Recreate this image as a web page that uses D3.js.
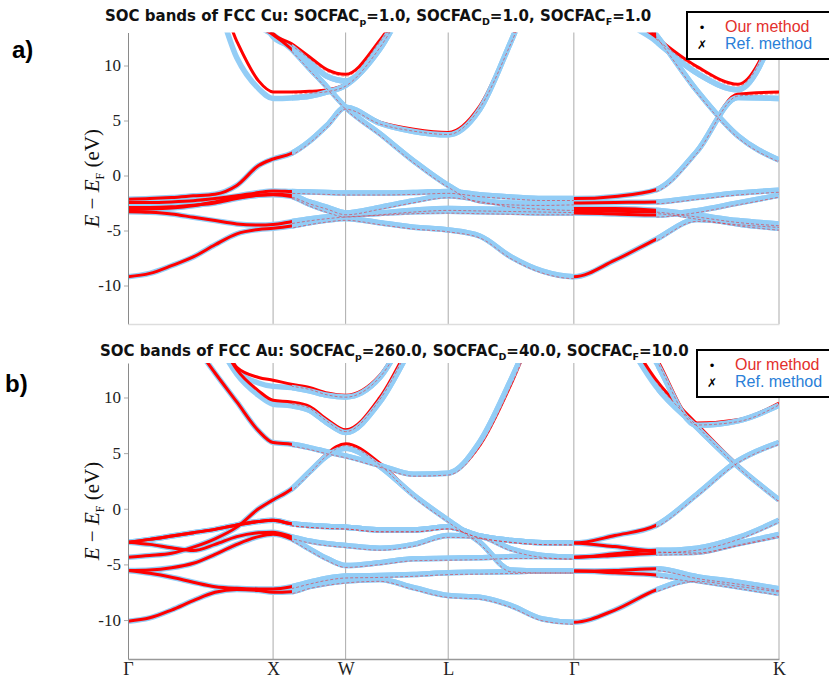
<!DOCTYPE html>
<html>
<head>
<meta charset="utf-8">
<script src="https://cdn.jsdelivr.net/npm/d3@7"></script>
<style>
    body { margin: 0; background: #fff; }
    svg { display: block; }
</style>
</head>
<body>
<div id="chart"></div>
<script>
// k-path samples (2pi/a units): G-X, X-W, W-L, L-G, G-K
const kPath = [0, 0.15, 0.3, 0.45, 0.6, 0.75, 0.9, 1.0,
    1.125, 1.25, 1.375, 1.5,
    1.736, 1.971, 2.207,
    2.424, 2.64, 2.857, 3.073,
    3.356, 3.639, 3.922, 4.204, 4.487]
const kSym = [0, 1, 1.5, 2.207, 3.073, 4.487]
const kSymLabels = ["Γ", "X", "W", "L", "Γ", "K"]
const yTicks = [-10, -5, 0, 5, 10]
// stretches of the path where the "our method" dots were plotted over the reference
const denseRanges = [[0, 1.13], [3.073, 3.64]]

// ---- FCC Cu (panel a) ----
//              G     .     .     .     .     .     .     X     .     .     .     W     .     .     L     .     .     .     G     .     .     .     .     K
const cuS =    [-9.2, -8.9, -8.2, -7.4, -6.3, -5.3, -4.9, -4.8, -4.6, -4.3, -4.05, -3.9, -4.3, -4.7, -4.95, -5.5, -7.4, -8.7, -9.2, -7.7, -5.8, -4.0, -4.3, -4.55]
const cuD1Ref = [-2.45, -2.45, -2.4, -2.3, -2.1, -1.85, -1.55, -1.4, -1.45, -1.5, -1.55, -1.6, -1.6, -1.55, -1.45, -1.75, -1.95, -2.1, -2.1, -1.9, -1.3, 2.2, 7.1, 7.0]
const cuD1Our = [-2.45, -2.45, -2.4, -2.3, -2.1, -1.85, -1.55, -1.4, -1.45, -1.5, -1.55, -1.6, -1.6, -1.55, -1.45, -1.75, -1.95, -2.1, -2.1, -1.9, -1.3, 2.2, 7.4, 7.6]
const cuD2 =   [-2.9, -2.9, -2.85, -2.7, -2.5, -2.1, -1.8, -1.7, -1.8, -2.4, -2.9, -3.4, -2.9, -2.3, -1.85, -2.2, -2.7, -2.9, -3.0, -3.0, -3.15, -3.6, -4.1, -4.4]
const cuD3 =   [-3.1, -3.05, -2.95, -2.75, -2.4, -2.0, -1.8, -1.75, -1.9, -2.6, -3.2, -3.6, -3.4, -3.15, -3.0, -3.05, -3.1, -3.15, -3.2, -3.25, -3.3, -3.8, -4.4, -4.8]
const cuD4 =   [-3.3, -3.35, -3.5, -3.8, -4.1, -4.4, -4.5, -4.45, -4.2, -3.95, -3.75, -3.6, -3.45, -3.3, -3.25, -3.3, -3.35, -3.4, -3.4, -3.5, -3.6, -3.2, -2.5, -1.8]
const cuARef = [-2.15, -2.1, -2.0, -1.85, -1.7, -0.9, 0.9, 1.5, 2.0, 3.1, 4.6, 6.2, 4.75, 4.0, 3.7, 6.0, 12.2, 19, 23, 17, 12.8, 7.7, 3.6, 1.4]
const cuAOur = [-2.15, -2.1, -2.0, -1.85, -1.7, -0.9, 0.9, 1.5, 2.0, 3.1, 4.6, 6.2, 4.85, 4.2, 3.9, 6.3, 12.2, 19, 23, 17, 12.8, 7.7, 3.6, 1.4]
const cuU3 =   [26, 24, 22, 20, 18, 16, 13.6, 12.8, 11.5, 9.75, 8.0, 6.2, 3.8, 1.3, -0.9, -2.3, -2.5, -2.55, -2.5, -2.45, -2.4, -2.0, -1.6, -1.35]
const cuU2Ref = [24, 22, 20, 18, 16, 10.7, 7.9, 7.0, 7.05, 7.2, 7.6, 8.2, 11.5, 17, 22, 26, 28, 30, 30, 15.5, 12.2, 9.3, 7.8, 14]
const cuU2Our = [24, 22, 20, 18, 17, 12.2, 8.6, 7.6, 7.6, 7.65, 7.8, 8.3, 11.8, 17, 22, 26, 28, 30, 30, 16, 12.6, 9.9, 8.3, 14.5]
const cuU4Ref = [30, 28, 26, 24, 22, 19, 15, 12.6, 11.7, 10.3, 9.0, 8.6, 11.8, 17, 22, 26, 28, 30, 30, 28, 26, 24, 22, 20]
const cuU4Our = [30, 28, 26, 24, 22, 19, 15, 12.9, 12.0, 10.8, 9.6, 9.2, 12.3, 17, 22, 26, 28, 30, 30, 28, 26, 24, 22, 20]

// ---- FCC Au (panel b) ----
const auF =    [-10.1, -9.8, -9.1, -8.25, -7.5, -7.25, -7.35, -7.5, -7.45, -7.0, -6.7, -6.5, -6.35, -7.1, -7.8, -7.95, -8.7, -9.9, -10.2, -9.1, -7.3, -6.35, -6.8, -7.3]
const auE =    [-5.55, -5.8, -6.15, -6.6, -7.0, -7.15, -7.2, -7.2, -7.0, -6.6, -6.25, -6.05, -6.0, -5.9, -5.75, -5.7, -5.65, -5.6, -5.6, -5.75, -5.95, -6.45, -7.0, -7.6]
const auD =    [-5.55, -5.5, -5.3, -4.9, -4.1, -3.2, -2.5, -2.3, -2.7, -3.6, -4.5, -5.1, -4.85, -4.5, -4.45, -4.4, -4.3, -4.3, -4.35, -4.2, -4.0, -3.9, -3.15, -2.4]
const auCRef = [-4.35, -4.2, -4.0, -3.45, -2.7, -1.65, 0.0, 0.8, 1.75, 3.3, 4.8, 5.45, 3.8, 1.2, -1.04, -3.0, -5.5, -5.6, -5.6, -5.55, -5.4, -6.1, -6.6, -7.2]
const auCOur = [-4.35, -4.2, -4.0, -3.45, -2.7, -1.65, 0.0, 0.8, 1.75, 3.3, 5.0, 5.85, 4.1, 1.2, -1.04, -3.0, -5.5, -5.6, -5.6, -5.55, -5.4, -6.1, -6.6, -7.2]
const auB =    [-3.0, -3.2, -3.5, -3.75, -3.2, -2.5, -2.15, -2.1, -2.5, -2.9, -3.15, -3.3, -3.55, -3.2, -2.4, -2.5, -3.6, -4.2, -4.35, -4.05, -3.72, -3.8, -3.1, -2.3]
const auA =    [-3.0, -2.75, -2.45, -2.15, -1.85, -1.45, -1.15, -1.04, -1.35, -1.5, -1.6, -1.65, -1.9, -1.9, -1.64, -2.45, -2.85, -3.05, -3.08, -2.4, -1.5, 1.3, 4.3, 5.95]
const auA2 =   [-3.0, -2.75, -2.45, -2.15, -1.85, -1.45, -1.15, -1.04, -1.35, -1.5, -1.6, -1.65, -1.9, -1.9, -1.64, -2.45, -2.85, -3.05, -3.08, -3.4, -3.78, -3.55, -2.6, -1.04]
const auU1Ref = [22.6, 20, 17.5, 14.9, 12.2, 9.6, 7.0, 5.95, 5.8, 5.5, 5.1, 4.75, 3.9, 3.1, 3.2, 6.0, 11.6, 18, 24, 17, 11.0, 7.3, 3.8, 0.8]
const auU1Our = [22.6, 20, 17.5, 14.9, 12.2, 9.6, 7.0, 5.95, 5.8, 5.5, 5.1, 4.75, 3.9, 3.1, 3.2, 5.7, 11.2, 18, 24, 17.5, 11.6, 7.6, 3.9, 0.8]
const auU2Ref = [30, 27, 24, 20, 15.5, 12.1, 10.2, 9.4, 9.25, 8.85, 7.7, 6.85, 9.6, 15, 21, 25, 28, 30, 30, 20, 13.2, 7.5, 7.9, 9.3]
const auU2Our = [30, 27, 24, 20, 16, 12.5, 10.6, 9.75, 9.6, 9.2, 8.0, 7.1, 10.0, 15.5, 21, 25, 28, 30, 30, 20, 13.6, 7.7, 8.0, 9.5]
const auU3Ref = [30, 28, 25, 21, 16.5, 12.5, 11.3, 11.0, 10.9, 10.6, 10.2, 10.05, 11.8, 17, 22, 26, 28, 30, 30, 29, 27, 24, 20, 17]
const auU3Our = [30, 28, 25, 21, 17, 12.7, 11.8, 11.55, 11.2, 10.9, 10.4, 10.2, 12.0, 17, 22, 26, 28, 30, 30, 29, 27, 24, 20, 17]

const cuRef = [cuS, cuD1Ref, cuD2, cuD3, cuD4, cuARef, cuU3, cuU2Ref, cuU4Ref]
const cuOur = [cuS, cuD1Our, cuD2, cuD3, cuD4, cuAOur, cuU3, cuU2Our, cuU4Our]
const auRef = [auF, auE, auD, auCRef, auB, auA, auA2, auU1Ref, auU2Ref, auU3Ref]
const auOur = [auF, auE, auD, auCOur, auB, auA, auA2, auU1Our, auU2Our, auU3Our]

const titleA = [["SOC bands of FCC Cu: SOCFAC", 0], ["p", 1], ["=1.0, SOCFAC", 0], ["D", 1], ["=1.0, SOCFAC", 0], ["F", 1], ["=1.0", 0]]
const titleB = [["SOC bands of FCC Au: SOCFAC", 0], ["p", 1], ["=260.0, SOCFAC", 0], ["D", 1], ["=40.0, SOCFAC", 0], ["F", 1], ["=10.0", 0]]
const legendItems = [{ mark: "•", label: "Our method", color: "#e3302c" },
                     { mark: "✗", label: "Ref. method", color: "#2a80d8" }]

const refColor = "#93cdf6"
const ourColor = "#ff0000"

const svg = d3.select("#chart").append("svg")
    .attr("width", 829)
    .attr("height", 679)

class BandPanel {
    constructor(opts) {
        this.svg = opts.svg
        this.id = opts.id
        this.ref = opts.ref
        this.our = opts.our
        this.top = opts.top
        this.bottom = opts.bottom
        this.yDomain = opts.yDomain
        this.showKLabels = opts.showKLabels
        this.baseColor = opts.baseColor
    }

    draw() {
        const left = 128, right = 779
        const kMax = kSym[kSym.length - 1]
        this.xScale = d3.scaleLinear().domain([0, kMax]).range([left, right])
        this.yScale = d3.scaleLinear().domain(this.yDomain).range([this.bottom, this.top])
        const x = this.xScale, y = this.yScale
        const h = this.bottom - this.top

        // complement of the dense stretches
        const sparse = []
        denseRanges.forEach((r, i) => {
            const next = i + 1 < denseRanges.length ? denseRanges[i + 1][0] : kMax
            if (next > r[1]) sparse.push([r[1], next])
        })

        const defs = this.svg.append("defs")
        defs.append("clipPath").attr("id", this.id + "-plot")
            .append("rect")
            .attr("x", left).attr("y", this.top)
            .attr("width", right - left).attr("height", h)
        defs.append("clipPath").attr("id", this.id + "-mid")
            .selectAll("rect").data(sparse).join("rect")
            .attr("x", d => x(d[0])).attr("y", this.top)
            .attr("width", d => x(d[1]) - x(d[0])).attr("height", h)

        // symmetry point lines
        this.svg.append("g").selectAll("line").data(kSym.slice(1)).join("line")
            .attr("x1", d => x(d)).attr("x2", d => x(d))
            .attr("y1", this.top).attr("y2", this.bottom)
            .attr("stroke", "#ababab")
            .attr("stroke-width", 1)

        const lineGenerator = d3.line()
            .x((d, i) => x(kPath[i]))
            .y(d => y(d))
            .curve(d3.curveMonotoneX)

        const plot = this.svg.append("g").attr("clip-path", `url(#${this.id}-plot)`)

        const drawBands = (g, data, color, width) => g.append("g")
            .selectAll("path").data(data).join("path")
            .attr("d", lineGenerator)
            .attr("fill", "none")
            .attr("stroke", color)
            .attr("stroke-width", width)
            .attr("stroke-linejoin", "round")

        drawBands(plot, this.ref, refColor, 5.5)
        drawBands(plot, this.our, ourColor, 3)

        const mid = plot.append("g").attr("clip-path", `url(#${this.id}-mid)`)
        drawBands(mid, this.ref, refColor, 5.5)
        drawBands(mid, this.our, ourColor, 0.9)
            .attr("transform", "translate(0,1.9)")
            .attr("stroke-dasharray", "3 2")
            .attr("opacity", 0.5)

        // axes
        const yAxisGenerator = d3.axisLeft(y)
            .tickValues(yTicks)
            .tickFormat(d => String(d))
            .tickSize(4)
            .tickSizeOuter(0)
            .tickPadding(3)
        const yAxis = this.svg.append("g")
            .attr("transform", `translate(${left},0)`)
            .call(yAxisGenerator)
        yAxis.select(".domain").attr("stroke", "#8a8a8a")
        yAxis.selectAll(".tick line").attr("stroke", "#aaa")
        yAxis.selectAll(".tick text")
            .attr("font-family", "'Liberation Serif', serif")
            .attr("font-size", 17)
            .attr("fill", "#222")

        const xAxisGenerator = d3.axisBottom(x)
            .tickValues(kSym)
            .tickSize(0)
            .tickPadding(3)
            .tickFormat((d, i) => this.showKLabels ? kSymLabels[i] : "")
        const xAxis = this.svg.append("g")
            .attr("transform", `translate(0,${this.bottom})`)
            .call(xAxisGenerator)
        xAxis.select(".domain").attr("stroke", this.baseColor).attr("stroke-width", 1.3)
        xAxis.selectAll(".tick text")
            .attr("font-family", "'Liberation Serif', serif")
            .attr("font-size", 18)
            .attr("fill", "#222")

        // y label
        const lab = this.svg.append("text")
            .attr("transform", `translate(99,${(this.top + this.bottom) / 2}) rotate(-90)`)
            .attr("text-anchor", "middle")
            .attr("font-family", "'Liberation Serif', serif")
            .attr("font-size", 21)
            .attr("fill", "#111")
        lab.append("tspan").attr("font-style", "italic").text("E")
        lab.append("tspan").text(" − ")
        lab.append("tspan").attr("font-style", "italic").text("E")
        lab.append("tspan").attr("font-size", 12).attr("dy", 5).text("F")
        lab.append("tspan").attr("dy", -5).text(" (eV)")
    }
}

function drawTitle(parts, x, yBase) {
    const t = svg.append("text")
        .attr("x", x).attr("y", yBase)
        .attr("font-family", "'DejaVu Sans', sans-serif")
        .attr("font-weight", "bold")
        .attr("font-size", 15)
        .attr("fill", "#111")
    let shifted = false
    parts.forEach(p => {
        const sp = t.append("tspan").text(p[0])
        if (p[1] && !shifted) { sp.attr("dy", 4).attr("font-size", 9.5); shifted = true }
        else if (!p[1] && shifted) { sp.attr("dy", -4); shifted = false }
    })
}

function drawLegend(bx, by) {
    const g = svg.append("g").attr("transform", `translate(${bx},${by})`)
    g.append("rect")
        .attr("x", 0).attr("y", 0)
        .attr("width", 150).attr("height", 47)
        .attr("fill", "#fff")
        .attr("stroke", "#000")
        .attr("stroke-width", 2)
    const rows = g.selectAll("g.row").data(legendItems).join("g")
        .attr("class", "row")
        .attr("transform", (d, i) => `translate(0,${20 + i * 17})`)
    rows.append("text")
        .attr("x", 15)
        .attr("text-anchor", "middle")
        .attr("font-family", "'DejaVu Sans', sans-serif")
        .attr("font-size", 12)
        .attr("fill", "#000")
        .text(d => d.mark)
    rows.append("text")
        .attr("x", 38)
        .attr("font-family", "'Liberation Sans', Arial, sans-serif")
        .attr("font-size", 16)
        .attr("fill", d => d.color)
        .text(d => d.label)
}

new BandPanel({ svg: svg, id: "cu", ref: cuRef, our: cuOur, top: 32.5, bottom: 324,
    yDomain: [-13.5, 13], showKLabels: false, baseColor: "#ddd" }).draw()
new BandPanel({ svg: svg, id: "au", ref: auRef, our: auOur, top: 363, bottom: 659,
    yDomain: [-13.5, 13.1], showKLabels: true, baseColor: "#999" }).draw()

drawTitle(titleA, 105, 20.5)
drawTitle(titleB, 100, 355.5)
drawLegend(687, 12)
drawLegend(697, 350)

svg.append("text").attr("x", 12).attr("y", 58)
    .attr("font-family", "'Liberation Sans', Arial, sans-serif")
    .attr("font-weight", "bold").attr("font-size", 24)
    .text("a)")
svg.append("text").attr("x", 5).attr("y", 392)
    .attr("font-family", "'Liberation Sans', Arial, sans-serif")
    .attr("font-weight", "bold").attr("font-size", 24)
    .text("b)")
</script>
</body>
</html>
